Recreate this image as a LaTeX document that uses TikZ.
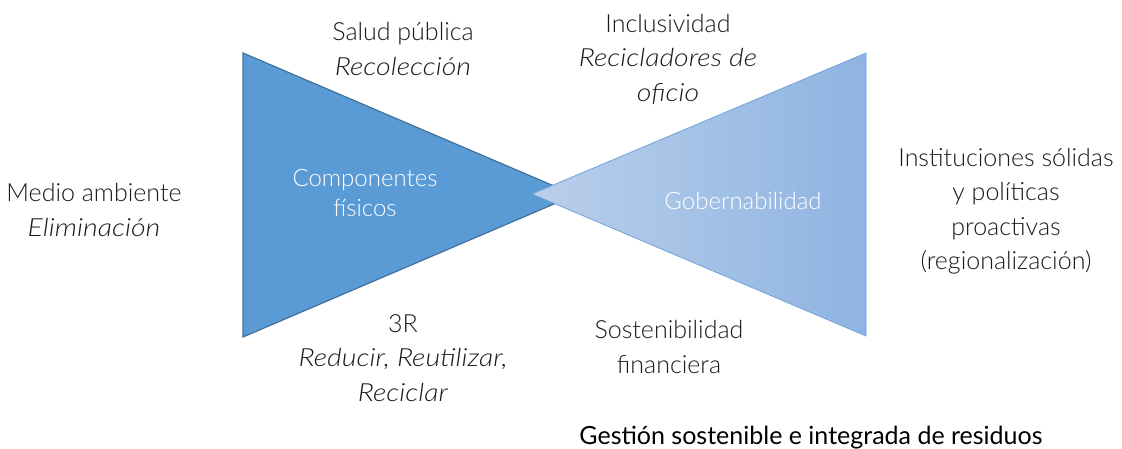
\documentclass[tikz,border=0pt]{standalone}
\usepackage{fontspec}
\setmainfont{Lato}[UprightFont={* Light}, ItalicFont={* Light Italic}, ItalicFeatures={FakeStretch=1.14}]
\newfontfamily\titlefont{Lato}
\definecolor{darkfill}{HTML}{5B9BD5}
\definecolor{darkline}{HTML}{41719C}
\definecolor{lightL}{HTML}{BACFEA}
\definecolor{lightR}{HTML}{8EB4E2}
\definecolor{lightline}{HTML}{6FA3DA}
\definecolor{txt}{HTML}{1A1A1A}
\begin{document}
\begin{tikzpicture}[x=1pt,y=-1pt,
  lbl/.style={font=\fontsize{25}{34.5}\selectfont, text=txt, align=center, inner sep=0pt},
  inner/.style={font=\fontsize{24}{30}\selectfont, text=white, align=center, inner sep=0pt}]
\useasboundingbox (0,0) rectangle (1122,449);
\fill[white] (0,0) rectangle (1122,449);
% left triangle
\filldraw[fill=darkfill, draw=darkline, line width=1.2pt, line join=miter]
  (243,53) -- (575,195) -- (243,337) -- cycle;
% right triangle
\shade[left color=lightL, right color=lightR] (532,194) -- (866,53) -- (866,336) -- cycle;
\draw[lightline, line width=0.8pt] (532,194) -- (866,53) -- (866,336) -- cycle;
% texts
\node[lbl] (salud) at (403,49) {Salud pública\\\textit{Recolección}};
\node[lbl] (incl) at (668,59) {Inclusividad\\\textit{Recicladores de}\\\textit{oficio}};
\node[lbl] (medio) at (94,210) {Medio ambiente\\\textit{Eliminación}};
\node[inner] (comp) at (365,193) {Componentes\\físicos};
\node[inner] (gob) at (743,201) {Gobernabilidad};
\node[lbl] (inst) at (1006,211) {Instituciones sólidas\\y políticas\\proactivas\\(regionalización)};
\node[lbl] (tres) at (403,358) {3R\\\textit{Reducir, Reutilizar,}\\\textit{Reciclar}};
\node[lbl] (sost) at (669,347) {Sostenibilidad\\financiera};
\node[font=\titlefont\fontsize{25}{28}\selectfont, text=black, inner sep=0pt] (title) at (811,438) {Gestión sostenible e integrada de residuos};
\end{tikzpicture}
\end{document}
